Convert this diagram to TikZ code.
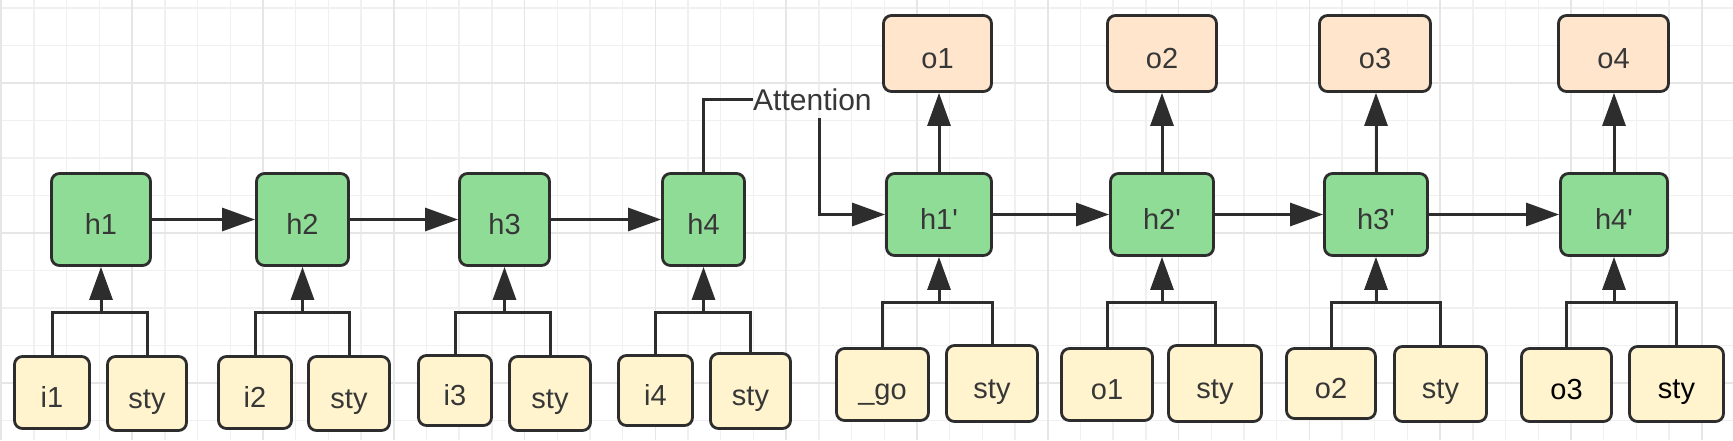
\documentclass[tikz,border=0pt]{standalone}
\usepackage{fontspec}
\setmainfont{Liberation Sans}[Ligatures=TeXOff]
\usetikzlibrary{arrows.meta,calc}
\definecolor{gfill}{RGB}{143,220,151}
\definecolor{yfill}{RGB}{255,244,206}
\definecolor{ofill}{RGB}{255,229,204}
\definecolor{bord}{RGB}{45,45,45}
\definecolor{txt}{RGB}{55,55,55}
\definecolor{gridminor}{RGB}{240,240,240}
\definecolor{gridmajor}{RGB}{230,230,230}
\newcommand\mkbox[7]{\node[#1,minimum width={#4-#3-3},minimum height={#6-#5-3}] (#2) at ({(#3+#4)/2},{(#5+#6)/2}) {#7};}
\begin{document}
\begin{tikzpicture}[x=1pt,y=-1pt,
  box/.style={draw=bord,line width=2.8pt,rounded corners=8pt,inner sep=0pt,
    font=\fontsize{29}{32}\selectfont,text=txt,text height=31pt,text depth=2pt},
  hbox/.style={box,fill=gfill},
  ibox/.style={box,fill=yfill},
  obox/.style={box,fill=ofill},
  conn/.style={draw=bord,line width=3pt},
  arr/.style={conn,-{Triangle[length=33pt,width=23pt]}},
  gridline/.style={draw=gridminor,line width=1.4pt},
  gridbold/.style={draw=gridmajor,line width=1.6pt}]
\fill[white] (0,0) rectangle (1733,440);
\useasboundingbox (0,0) rectangle (1733,440);
% grid
\foreach \k in {0,...,53}{\draw[gridline] ({1.3+32.7*\k},0) -- ++(0,440);}
\foreach \k in {0,...,11}{\draw[gridline] (0,{8+37.5*\k}) -- ++(1733,0);}
\foreach \k in {0,4,...,52}{\draw[gridbold] ({1.3+32.7*\k},0) -- ++(0,440);}
\foreach \k in {2,6,10}{\draw[gridbold] (0,{8+37.5*\k}) -- ++(1733,0);}
% row levels
\coordinate (encj) at (0,312);
\coordinate (decj) at (0,302);
% encoder
\mkbox{hbox}{h1}{50}{152}{172}{267}{h1}
\mkbox{hbox}{h2}{255}{350}{172}{267}{h2}
\mkbox{hbox}{h3}{458}{551}{172}{267}{h3}
\mkbox{hbox}{h4}{661}{746}{172}{267}{h4}
\mkbox{ibox}{i1}{13}{91}{355}{430}{i1}
\mkbox{ibox}{s1}{106}{188}{355}{432}{sty}
\mkbox{ibox}{i2}{217}{293}{355}{430}{i2}
\mkbox{ibox}{s2}{307}{391}{355}{432}{sty}
\mkbox{ibox}{i3}{417}{493}{354}{427}{i3}
\mkbox{ibox}{s3}{508}{592}{355}{432}{sty}
\mkbox{ibox}{i4}{617}{694}{354}{427}{i4}
\mkbox{ibox}{s4}{709}{792}{352}{430}{sty}
% decoder
\mkbox{hbox}{d1}{885}{993}{172}{257}{h1'}
\mkbox{hbox}{d2}{1109}{1215}{172}{257}{h2'}
\mkbox{hbox}{d3}{1323}{1429}{172}{257}{h3'}
\mkbox{hbox}{d4}{1559}{1669}{172}{257}{h4'}
\mkbox{obox}{o1}{882}{993}{14}{93}{o1}
\mkbox{obox}{o2}{1106}{1218}{14}{93}{o2}
\mkbox{obox}{o3}{1318}{1432}{14}{93}{o3}
\mkbox{obox}{o4}{1557}{1670}{14}{93}{o4}
\mkbox{ibox}{g1}{835}{930}{347}{422}{\_go}
\mkbox{ibox}{t1}{945}{1039}{344}{423}{sty}
\mkbox{ibox}{g2}{1060}{1154}{347}{422}{o1}
\mkbox{ibox}{t2}{1167}{1263}{344}{423}{sty}
\mkbox{ibox}{g3}{1285}{1377}{347}{420}{o2}
\mkbox{ibox}{t3}{1393}{1488}{345}{423}{sty}
\mkbox{ibox}{g4}{1520}{1613}{347}{423}{\color{black}o3}
\mkbox{ibox}{t4}{1628}{1725}{345}{423}{\color{black}sty}
% attention label
\node[anchor=base west,inner sep=0pt,font=\fontsize{30}{34}\selectfont,text=txt] (att) at (753,110) {Attention};
% encoder connectors
\draw[arr] (h1) -- (h2);
\draw[arr] (h2) -- (h3);
\draw[arr] (h3) -- (h4);
\foreach \i/\s/\h in {i1/s1/h1,i2/s2/h2,i3/s3/h3,i4/s4/h4}{
  \draw[conn] (\i.north) |- (\h.south |- encj) -| (\s.north);
  \draw[arr] (\h.south |- encj) -- (\h.south);
}
% attention
\draw[conn] (h4.north) |- (att.west);
\draw[arr] ([xshift=7.5pt,yshift=-8pt]att.south) |- (d1.west);
% decoder connectors
\draw[arr] (d1) -- (d2);
\draw[arr] (d2) -- (d3);
\draw[arr] (d3) -- (d4);
\foreach \g/\t/\d/\o in {g1/t1/d1/o1,g2/t2/d2/o2,g3/t3/d3/o3,g4/t4/d4/o4}{
  \draw[conn] (\g.north) |- (\d.south |- decj) -| (\t.north);
  \draw[arr] (\d.south |- decj) -- (\d.south);
  \draw[arr] (\d.north) -- (\d.north |- \o.south);
}
\end{tikzpicture}
\end{document}
